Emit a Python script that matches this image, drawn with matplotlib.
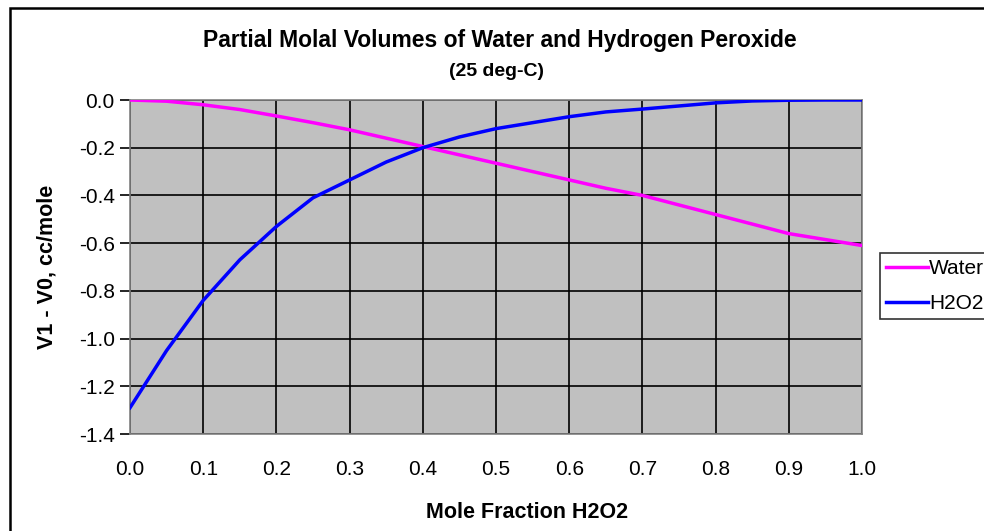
import matplotlib
matplotlib.use("Agg")
import matplotlib.pyplot as plt
from matplotlib.patches import Rectangle

# mole fraction of H2O2
mole_frac = [0.0, 0.05, 0.1, 0.15, 0.2, 0.25, 0.3, 0.35, 0.4, 0.45, 0.5,
             0.55, 0.6, 0.65, 0.7, 0.75, 0.8, 0.85, 0.9, 0.95, 1.0]
# V1 - V0 for water
water = [0.0, -0.005, -0.02, -0.04, -0.067, -0.095, -0.125, -0.16, -0.195,
         -0.23, -0.265, -0.30, -0.335, -0.37, -0.40, -0.44, -0.48, -0.52,
         -0.56, -0.585, -0.61]
# V1 - V0 for hydrogen peroxide
h2o2 = [-1.29, -1.05, -0.84, -0.67, -0.53, -0.41, -0.335, -0.26, -0.20,
        -0.155, -0.12, -0.095, -0.07, -0.05, -0.038, -0.025, -0.012,
        -0.004, -0.001, 0.0, 0.0]

x_ticks = [0.0, 0.1, 0.2, 0.3, 0.4, 0.5, 0.6, 0.7, 0.8, 0.9, 1.0]
y_ticks = [0.0, -0.2, -0.4, -0.6, -0.8, -1.0, -1.2, -1.4]

plt.rcParams['font.family'] = ['Liberation Sans', 'DejaVu Sans']

fig = plt.figure(figsize=(9.84, 5.31), dpi=100)
ax = fig.add_axes([130/984, 1 - 434/531, 732/984, 334/531])
ax.set_facecolor("#C0C0C0")

ax.plot(mole_frac, water, color="#FF00FF", lw=2.5, label="Water", zorder=3)
ax.plot(mole_frac, h2o2, color="#0000FF", lw=2.5, label="H2O2", zorder=3)

ax.set_xlim(0, 1)
ax.set_ylim(-1.4, 0)
ax.set_xticks(x_ticks)
ax.set_xticklabels(["%.1f" % v for v in x_ticks])
ax.set_yticks(y_ticks)
ax.set_yticklabels(["%.1f" % v for v in y_ticks])
ax.grid(True, color="black", lw=1.2)
ax.set_axisbelow(True)
ax.tick_params(axis="x", length=0, pad=19, labelsize=15, colors="black")
ax.tick_params(axis="y", length=7, width=1.2, pad=4, labelsize=15)
for s in ax.spines.values():
    s.set_color("#808080")
    s.set_linewidth(1.2)

fig.text(0.508, 1 - 40/531, "Partial Molal Volumes of Water and Hydrogen Peroxide",
         ha="center", va="center", fontsize=16.5, fontweight="bold")
fig.text(0.505, 1 - 72/531, "(25 deg-C)", ha="center", va="center",
         fontsize=14, fontweight="bold")
fig.text(527/984, 1 - 513/531, "Mole Fraction H2O2", ha="center", va="center",
         fontsize=15.5, fontweight="bold")
fig.text(47/984, 1 - 267/531, "V1 - V0, cc/mole", ha="center", va="center",
         rotation=90, fontsize=15.5, fontweight="bold")

leg = fig.legend(loc="upper left", bbox_to_anchor=(880/984, 1 - 253/531),
                 fontsize=15, frameon=True, fancybox=False, handlelength=2.0,
                 handletextpad=0.05, borderpad=0.3, labelspacing=0.75,
                 borderaxespad=0)
leg.get_frame().set_edgecolor("black")
leg.get_frame().set_linewidth(1.2)

# outer chart border (runs off the right and bottom edges)
fig.add_artist(Rectangle((10/984, -0.1), 1.2, 1.1 - 8/531, transform=fig.transFigure,
                         fill=False, edgecolor="black", lw=1.8))

fig.savefig("out.png", dpi=100)
